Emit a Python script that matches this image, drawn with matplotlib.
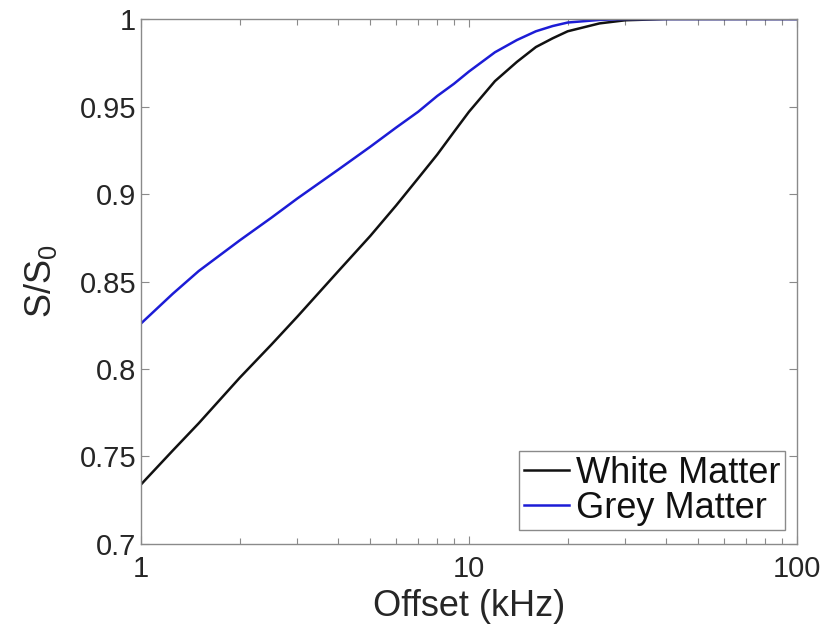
import matplotlib
matplotlib.use("Agg")
import matplotlib.pyplot as plt
from matplotlib.ticker import LogLocator, FixedLocator, NullFormatter

# Saturation curves vs. off-resonance offset
offset_khz = [1, 1.25, 1.5, 2, 2.5, 3, 4, 5, 6, 7, 8, 9, 10, 12, 14, 16, 18, 20,
              25, 30, 40, 60, 100]
white_matter = [0.734, 0.7534, 0.769, 0.795, 0.814, 0.830, 0.856, 0.876, 0.8935,
                0.909, 0.9225, 0.9355, 0.947, 0.9645, 0.9755, 0.984, 0.989, 0.993,
                0.9975, 0.9993, 1.0, 1.0, 1.0]
grey_matter = [0.826, 0.843, 0.856, 0.8735, 0.8865, 0.8975, 0.914, 0.927, 0.938,
               0.947, 0.956, 0.963, 0.970, 0.981, 0.988, 0.993, 0.996, 0.998,
               0.9995, 1.0, 1.0, 1.0, 1.0]
series_labels = ["White Matter", "Grey Matter"]
y_ticks = [0.7, 0.75, 0.8, 0.85, 0.9, 0.95, 1.0]
y_tick_labels = ["0.7", "0.75", "0.8", "0.85", "0.9", "0.95", "1"]
x_ticks = [1, 10, 100]
x_tick_labels = ["1", "10", "100"]

plt.rcParams["font.family"] = ["Liberation Sans", "DejaVu Sans"]
plt.rcParams["mathtext.fontset"] = "custom"
plt.rcParams["mathtext.rm"] = "Liberation Sans"
text_color = "#262626"
axis_color = "#8a8a8a"

fig = plt.figure(figsize=(8.25, 6.28), dpi=100)
ax = fig.add_axes([0.1709, 0.1338, 0.7951, 0.8359])

ax.plot(offset_khz, white_matter, color="#111111", lw=1.8, label=series_labels[0])
ax.plot(offset_khz, grey_matter, color="#1c1cd6", lw=1.8, label=series_labels[1])

ax.set_xscale("log")
ax.set_xlim(1, 100)
ax.set_ylim(0.7, 1.0)
ax.xaxis.set_major_locator(FixedLocator(x_ticks))
ax.set_xticklabels(x_tick_labels)
ax.xaxis.set_minor_locator(LogLocator(base=10, subs=range(2, 10)))
ax.xaxis.set_minor_formatter(NullFormatter())
ax.set_yticks(y_ticks)
ax.set_yticklabels(y_tick_labels)

ax.tick_params(axis="both", which="both", direction="in", top=True, right=True,
               colors=axis_color, labelcolor=text_color, labelsize=21, width=0.8)
ax.tick_params(which="major", length=6)
ax.tick_params(which="minor", length=4)
ax.tick_params(axis="x", pad=8)
for sp in ax.spines.values():
    sp.set_color(axis_color)
    sp.set_linewidth(1.0)

ax.set_xlabel("Offset (kHz)", fontsize=26, color=text_color, labelpad=4)
ax.set_ylabel("S/S$_\\mathregular{0}$", fontsize=26, color=text_color, labelpad=15)

leg = ax.legend(loc="lower right", bbox_to_anchor=(0.9817, 0.0267), borderaxespad=0,
                fontsize=26, handlelength=1.25, handletextpad=0.2, labelspacing=0.0,
                borderpad=0.12, fancybox=False, framealpha=1)
leg.get_frame().set_edgecolor(axis_color)
leg.get_frame().set_linewidth(1.0)
for t in leg.get_texts():
    t.set_color("#111111")

fig.savefig("out.png", dpi=100)
